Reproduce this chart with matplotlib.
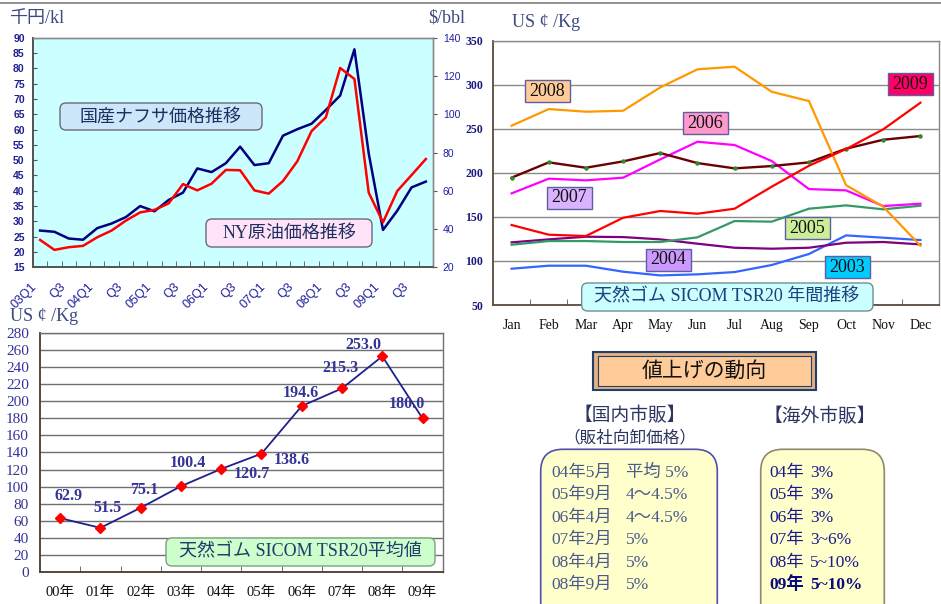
import numpy as np
import matplotlib
matplotlib.use("Agg")
import matplotlib.pyplot as plt
from matplotlib.patches import FancyBboxPatch, Rectangle
from matplotlib.transforms import ScaledTranslation

plt.rcParams['font.family'] = ['Liberation Serif', 'Noto Sans CJK JP']

# ── Data: naphtha (left axis) / NY crude (right axis), quarterly 03Q1-09Q4 ──
quarter_labels = ["03Q1", "Q3", "04Q1", "Q3", "05Q1", "Q3", "06Q1", "Q3",
                  "07Q1", "Q3", "08Q1", "Q3", "09Q1", "Q3"]
naphtha = [27.0, 26.6, 24.4, 24.0, 27.8, 29.3, 31.4, 35.0, 33.3, 37.0,
           39.4, 47.3, 46.1, 49.0, 54.4, 48.4, 49.0, 58.0, 60.1, 61.9,
           66.4, 71.1, 86.2, 52.2, 27.2, 33.5, 41.1, 43.0]
crude = [34.3, 29.1, 30.5, 31.2, 35.7, 39.2, 44.4, 48.7, 50.0, 53.4,
         63.5, 60.2, 63.7, 70.9, 70.7, 60.2, 58.5, 65.1, 75.4, 91.2,
         98.4, 124.2, 118.4, 59.0, 43.5, 59.9, 68.2, 76.6]

# ── Data: SICOM TSR20 monthly by year ──
months = ["Jan", "Feb", "Mar", "Apr", "May", "Jun",
          "Jul", "Aug", "Sep", "Oct", "Nov", "Dec"]
tsr_2003 = [91.2, 94.6, 94.6, 87.8, 83.6, 84.8, 87.4, 95.4, 107.9, 129.0, 126.4, 123.7]
tsr_2004 = [121.1, 124.5, 127.5, 127.1, 124.5, 119.6, 115.0, 113.9, 115.0, 120.7, 121.5, 118.8]
tsr_2005 = [118.4, 122.6, 122.6, 121.5, 121.5, 126.8, 145.3, 144.6, 159.3, 163.1, 158.6, 162.7]
tsr_2006 = [176.7, 193.4, 191.5, 194.5, 215.3, 235.3, 231.6, 213.4, 181.6, 180.1, 162.3, 165.0]
tsr_2007 = [194.5, 211.9, 205.8, 213.0, 222.5, 211.1, 205.1, 207.7, 211.9, 227.4, 237.6, 241.8]
tsr_2008 = [253.5, 272.4, 269.4, 270.5, 297.0, 317.5, 320.5, 292.0, 281.5, 186.0, 161.6, 117.3]
tsr_2009 = [140.8, 129.8, 128.3, 149.0, 156.7, 153.6, 159.3, 184.3, 208.0, 227.0, 249.4, 279.6]

# ── Data: SICOM TSR20 yearly average ──
years = ["00年", "01年", "02年", "03年", "04年", "05年", "06年", "07年", "08年", "09年"]
avg_price = [62.9, 51.5, 75.1, 100.4, 120.7, 138.6, 194.6, 215.3, 253.0, 180.0]

# ── Data: price-increase tables ──
domestic_dates = ["04年5月", "05年9月", "06年4月", "07年2月", "08年4月", "08年9月"]
domestic_rates = ["平均 5%", "4〜4.5%", "4〜4.5%", "5%", "5%", "5%"]
overseas_years = ["04年", "05年", "06年", "07年", "08年", "09年"]
overseas_rates = ["3%", "3%", "3%", "3~6%", "5~10%", "5~10%"]

NAVY_TXT = "#1F1F8F"
SERIF_JP = ['Liberation Serif', 'Noto Sans CJK JP']
SANS_JP = ['Noto Sans CJK JP', 'DejaVu Sans']

fig = plt.figure(figsize=(9.41, 6.04), dpi=100)


def style_spines(ax, dark="#555555", light="#8a8a8a"):
    for side in ("left", "bottom"):
        ax.spines[side].set_color(dark)
        ax.spines[side].set_linewidth(1.3)
    for side in ("top", "right"):
        ax.spines[side].set_color(light)
        ax.spines[side].set_linewidth(1.0)


# ── Top-left: naphtha vs crude ───────────────────────────────
ax1 = fig.add_axes([0.03507, 0.55745, 0.42508, 0.38013])
ax1.set_facecolor("#CCFFFF")
xq = np.arange(len(naphtha))
ax1.plot(xq, naphtha, color="#000080", lw=1.8)
ax1.set_xlim(-0.5, len(naphtha) - 0.5)
ax1.set_ylim(15, 90)
ax1.set_yticks(np.arange(15, 91, 5))
ax1.tick_params(axis="y", direction="in", length=3, pad=6, labelsize=7.5,
                labelcolor=NAVY_TXT, color="#555555")
for t in ax1.get_yticklabels():
    t.set_family("Liberation Sans")
    t.set_weight("bold")
ax1.set_xticks(xq[::2])
ax1.set_xticklabels(quarter_labels, rotation=45, ha="right", va="center",
                    rotation_mode="anchor", fontsize=9, color="#2020A0",
                    family="Liberation Sans")
ax1.set_xticks(np.arange(0.5, len(naphtha) - 1, 1), minor=True)
ax1.tick_params(axis="x", which="major", length=0, pad=0)
ax1.tick_params(axis="x", which="minor", direction="in", length=4, color="#555555")
shift = ScaledTranslation(-5 / 100, -18 / 100, fig.dpi_scale_trans)
for t in ax1.get_xticklabels():
    t.set_transform(t.get_transform() + shift)

ax2 = ax1.twinx()
ax2.plot(xq, crude, color="#FF0000", lw=1.8)
ax2.set_ylim(20, 140)
ax2.set_yticks(np.arange(20, 141, 20))
ax2.tick_params(axis="y", direction="out", length=3, pad=4, labelsize=7.5,
                labelcolor="#2020A0", color="#555555")
for t in ax2.get_yticklabels():
    t.set_family("Liberation Sans")
style_spines(ax1)
style_spines(ax2)

# ── Top-right: SICOM monthly ─────────────────────────────────
ax3 = fig.add_axes([0.52391, 0.49503, 0.47396, 0.43758])
xm = np.arange(len(months))
ax3.plot(xm, tsr_2003, color="#3366FF", lw=1.6)
ax3.plot(xm, tsr_2004, color="#800080", lw=1.6)
ax3.plot(xm, tsr_2005, color="#339966", lw=1.6)
ax3.plot(xm, tsr_2006, color="#FF00FF", lw=1.6)
ax3.plot(xm, tsr_2007, color="#6B0000", lw=1.7, marker="o", ms=2.2,
         mfc="#2E8B2E", mec="#2E8B2E")
ax3.plot(xm, tsr_2008, color="#FF9900", lw=1.6)
ax3.plot(xm, tsr_2009, color="#FF0000", lw=1.6)
ax3.set_xlim(-0.5, 11.5)
ax3.set_ylim(50, 350)
ax3.set_yticks(np.arange(50, 351, 50))
ax3.yaxis.grid(True, color="#8a8a8a", lw=1.0)
ax3.set_axisbelow(True)
ax3.tick_params(axis="y", length=0, pad=7, labelsize=8.5, labelcolor="#1A1A7F")
for t in ax3.get_yticklabels():
    t.set_weight("bold")
ax3.set_xticks(xm)
ax3.set_xticklabels(months, fontsize=10, color="#111111")
ax3.set_xticks(np.arange(0.5, 11, 1), minor=True)
ax3.tick_params(axis="x", which="major", length=0, pad=10)
ax3.tick_params(axis="x", which="minor", direction="in", length=4, color="#555555")
style_spines(ax3, dark="#5a4a40")

# ── Bottom-left: SICOM yearly average ────────────────────────
ax4 = fig.add_axes([0.04251, 0.05348, 0.42795, 0.39470])
xy = np.arange(len(years))
ax4.plot(xy, avg_price, color="#1F1F8F", lw=1.3, marker="D", ms=5.5,
         mfc="#FF0000", mec="#FF0000", zorder=3)
ax4.set_xlim(-0.5, len(years) - 0.5)
ax4.set_ylim(0, 280)
ax4.set_yticks(np.arange(0, 281, 20))
ax4.yaxis.grid(True, color="#707070", lw=1.0)
ax4.set_axisbelow(True)
ax4.tick_params(axis="y", length=0, pad=8, labelsize=11, labelcolor="#333399")
ax4.set_xticks(xy)
ax4.set_xticklabels(years, fontsize=10.5, color="#111111")
ax4.set_xticks(np.arange(0.5, len(years) - 1, 1), minor=True)
ax4.tick_params(axis="x", which="major", length=0, pad=10)
ax4.tick_params(axis="x", which="minor", direction="in", length=4, color="#555555")
style_spines(ax4, dark="#4a3a30", light="#707070")

label_offsets = [(8, 22), (7, 20), (4, 18), (7, 23), (31, -5),
                 (30, -6), (-1, 13), (-2, 20), (-19, 11), (-16, 14)]
for xi, val, off in zip(xy, avg_price, label_offsets):
    ax4.annotate(f"{val:.1f}", (xi, val), xytext=off, textcoords="offset pixels",
                 ha="center", va="center", fontsize=11.5, fontweight="bold",
                 color="#333399", zorder=4)

# ── Overlay in pixel coordinates for boxes and free text ─────
ov = fig.add_axes([0, 0, 1, 1], zorder=10)
ov.set_xlim(0, 941)
ov.set_ylim(604, 0)
ov.axis("off")
ov.patch.set_visible(False)

ov.plot([0, 941], [2.7, 2.7], color="#888888", lw=1.3)

UNIT = "#3B4A80"
ov.text(9, 18, "千円/kl", fontsize=13, color=UNIT, family=SERIF_JP, va="center")
ov.text(428, 18, "$/bbl", fontsize=13, color=UNIT, family=SERIF_JP, va="center")
ov.text(512.5, 22.5, "US ¢ /Kg", fontsize=13, color=UNIT, family=SERIF_JP, va="center")
ov.text(10.5, 316.5, "US ¢ /Kg", fontsize=13, color=UNIT, family=SERIF_JP, va="center")


def rbox(x0, y0, x1, y1, fc, ec, r=6, lw=1.0):
    ov.add_patch(FancyBboxPatch((x0, y0), x1 - x0, y1 - y0,
                                boxstyle=f"round,pad=0,rounding_size={r}",
                                fc=fc, ec=ec, lw=lw, clip_on=False))


rbox(60, 103, 262, 130, "#CCE6FA", "#6A6A7A")
ov.text(161, 117, "国産ナフサ価格推移", fontsize=13, color="#1F2F5F",
        family=SANS_JP, ha="center", va="center")
rbox(206, 219, 372, 247, "#FFE3F8", "#6A6A7A")
ov.text(289, 233, "NY原油価格推移", fontsize=13, color="#1F2F5F",
        family=SERIF_JP, ha="center", va="center")

rbox(581.7, 283, 873, 311, "#CCFFFF", "#6F8F8F")
ov.text(727, 297, "天然ゴム SICOM TSR20 年間推移", fontsize=13, color="#1F3F7F",
        family=SERIF_JP, ha="center", va="center")
rbox(166, 538, 435, 566, "#CCFFCC", "#7F9F7F")
ov.text(300, 552, "天然ゴム SICOM TSR20平均値", fontsize=13, color="#253A6E",
        family=SERIF_JP, ha="center", va="center")

year_tags = [("2008", "#FFCC99", 547.5, 91), ("2009", "#FF0066", 910.3, 84),
             ("2006", "#FF99CC", 705.2, 123.3), ("2007", "#D9B3FF", 569.5, 197.5),
             ("2005", "#CCEE99", 807.3, 228), ("2004", "#CC99FF", 668.5, 259.5),
             ("2003", "#00CCFF", 847.5, 266.5)]
for txt, fc, cx, cy in year_tags:
    ov.add_patch(Rectangle((cx - 22.5, cy - 11), 45, 22, fc=fc, ec="#5F5F9F",
                           lw=1.0, clip_on=False))
    ov.text(cx, cy + 0.5, txt, fontsize=13, color="#111111", ha="center", va="center")

# price-increase panel
ov.add_patch(Rectangle((593, 351.7), 223, 38.3, fc="#E3B07E", ec="#1F3F6F", lw=1.5))
ov.add_patch(Rectangle((598, 356), 213, 30, fc="#FFCC99", ec="#1F3F6F", lw=0.8))
ov.text(704.5, 371, "値上げの動向", fontsize=15, color="#111111",
        family=SANS_JP, ha="center", va="center")

HEAD = "#2B3560"
ov.text(630, 416, "【国内市販】", fontsize=13.5, color=HEAD, family=SANS_JP,
        ha="center", va="center")
ov.text(630, 438, "（販社向卸価格）", fontsize=12, color=HEAD, family=SANS_JP,
        ha="center", va="center")
ov.text(820, 417, "【海外市販】", fontsize=13.5, color=HEAD, family=SANS_JP,
        ha="center", va="center")

rbox(540.7, 449.3, 717.3, 625, "#FFFFCC", "#4F4FAF", r=22, lw=1.2)
rbox(760.7, 449.3, 884.3, 625, "#FFFFCC", "#8F8770", r=22, lw=1.2)

for i, (d, r) in enumerate(zip(domestic_dates, domestic_rates)):
    yy = 473 + i * 22.4
    ov.text(551, yy, d, fontsize=12.5, color="#4A5A8A", family=SERIF_JP, va="center")
    ov.text(626, yy, r, fontsize=12.5, color="#4A5A8A", family=SERIF_JP, va="center")

for i, (yv, r) in enumerate(zip(overseas_years, overseas_rates)):
    yy = 473 + i * 22.4
    last = i == len(overseas_years) - 1
    col = "#0A0A7F" if last else "#1A1A8F"
    w = "bold" if last else "normal"
    ov.text(769.5, yy, yv, fontsize=12.5, color=col, family=SERIF_JP,
            va="center", fontweight=w)
    ov.text(810, yy, r, fontsize=12.5, color=col, family=SERIF_JP,
            va="center", fontweight=w)

fig.savefig("out.png", dpi=100)
